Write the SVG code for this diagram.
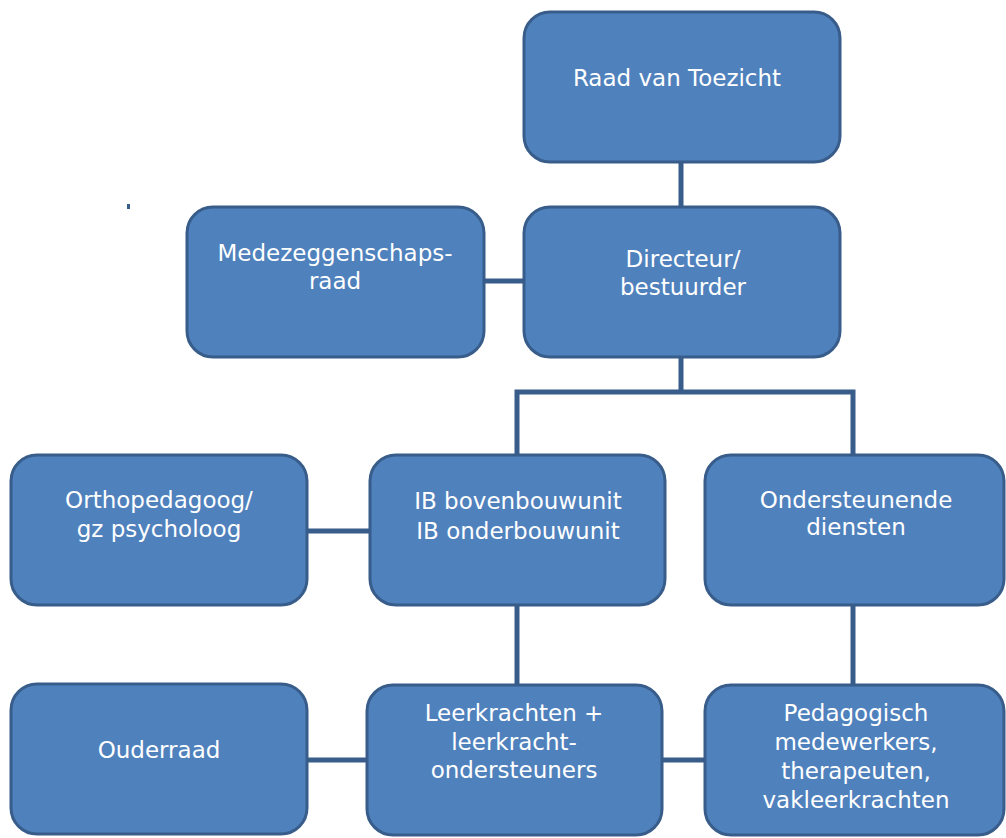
<svg xmlns="http://www.w3.org/2000/svg" width="1006" height="838" viewBox="0 0 1006 838">
<style>
.box{fill:#4f81bd;stroke:#385d8a;stroke-width:3}
.lbl{fill:#ffffff;font-family:"DejaVu Sans",Verdana,sans-serif;font-size:23px;text-anchor:middle}
.con{stroke:#385d8a;stroke-width:5;fill:none}
</style>
<rect width="1006" height="838" fill="#ffffff"/>
<g id="connectors">
<line class="con" x1="681" y1="162" x2="681" y2="206"/>
<line class="con" x1="485" y1="281" x2="523" y2="281"/>
<polyline class="con" points="681,357 681,392"/>
<polyline class="con" points="517,454 517,392 853,392 853,454"/>
<line class="con" x1="307" y1="531" x2="370" y2="531"/>
<line class="con" x1="517" y1="605" x2="517" y2="684"/>
<line class="con" x1="853" y1="605" x2="853" y2="684"/>
<line class="con" x1="307" y1="760" x2="367" y2="760"/>
<line class="con" x1="662" y1="760" x2="704" y2="760"/>
</g>
<rect x="127" y="204" width="3" height="5" fill="#385d8a"/>
<g id="raad">
<rect class="box" x="524" y="12" width="316" height="150" rx="26"/>
<text class="lbl" x="677" y="86">Raad van Toezicht</text>
</g>
<g id="mr">
<rect class="box" x="187" y="207" width="297" height="150" rx="26"/>
<text class="lbl" x="335" y="261">Medezeggenschaps-</text>
<text class="lbl" x="335" y="289">raad</text>
</g>
<g id="directeur">
<rect class="box" x="524" y="207" width="316" height="150" rx="26"/>
<text class="lbl" x="683" y="267">Directeur/</text>
<text class="lbl" x="683" y="295">bestuurder</text>
</g>
<g id="ortho">
<rect class="box" x="11" y="455" width="296" height="150" rx="26"/>
<text class="lbl" x="159" y="508">Orthopedagoog/</text>
<text class="lbl" x="159" y="537">gz psycholoog</text>
</g>
<g id="ib">
<rect class="box" x="370" y="455" width="295" height="150" rx="26"/>
<text class="lbl" x="518" y="509">IB bovenbouwunit</text>
<text class="lbl" x="518" y="539">IB onderbouwunit</text>
</g>
<g id="ondersteunend">
<rect class="box" x="705" y="455" width="299" height="150" rx="26"/>
<text class="lbl" x="856" y="508">Ondersteunende</text>
<text class="lbl" x="856" y="535">diensten</text>
</g>
<g id="ouderraad">
<rect class="box" x="11" y="684" width="296" height="150" rx="26"/>
<text class="lbl" x="159" y="758">Ouderraad</text>
</g>
<g id="leerkrachten">
<rect class="box" x="367" y="685" width="295" height="150" rx="26"/>
<text class="lbl" x="514" y="721">Leerkrachten +</text>
<text class="lbl" x="514" y="750">leerkracht-</text>
<text class="lbl" x="514" y="778">ondersteuners</text>
</g>
<g id="pedagogisch">
<rect class="box" x="705" y="685" width="299" height="150" rx="26"/>
<text class="lbl" x="856" y="721">Pedagogisch</text>
<text class="lbl" x="856" y="750">medewerkers,</text>
<text class="lbl" x="856" y="779">therapeuten,</text>
<text class="lbl" x="856" y="808">vakleerkrachten</text>
</g>
</svg>
